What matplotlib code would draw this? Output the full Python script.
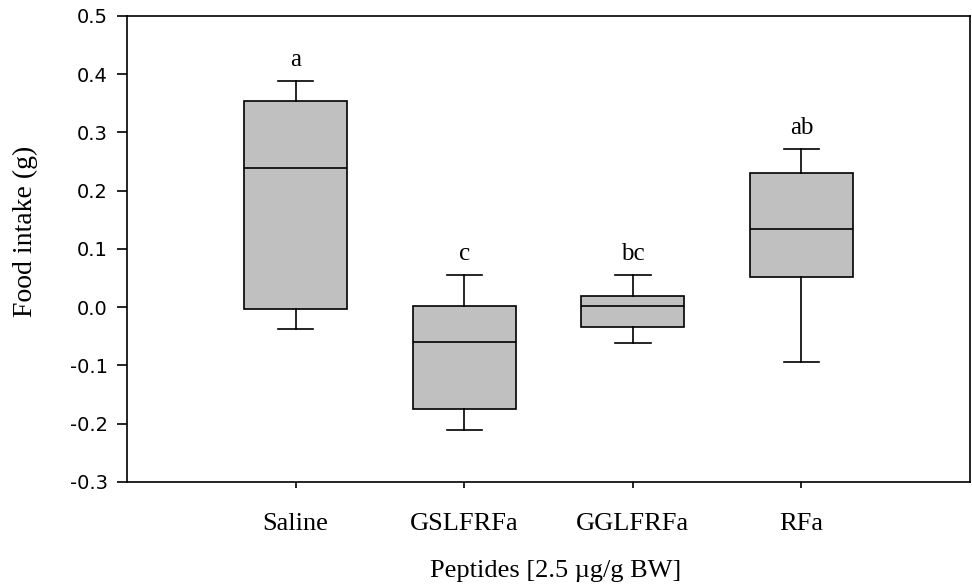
import matplotlib.pyplot as plt

# Box plot summary values
groups = ['Saline', 'GSLFRFa', 'GGLFRFa', 'RFa']
whisker_low = [-0.038, -0.210, -0.061, -0.094]
q1 = [-0.003, -0.175, -0.034, 0.052]
median = [0.239, -0.060, 0.002, 0.135]
q3 = [0.354, 0.002, 0.020, 0.230]
whisker_high = [0.388, 0.055, 0.055, 0.272]
letters = ['a', 'c', 'bc', 'ab']

serif = 'Liberation Serif'

fig = plt.figure(figsize=(9.72, 5.86), dpi=100)
ax = fig.add_axes([0.1307, 0.1775, 0.8673, 0.7952])

stats = []
for i, g in enumerate(groups):
    stats.append({'label': g, 'whislo': whisker_low[i], 'q1': q1[i], 'med': median[i],
                  'q3': q3[i], 'whishi': whisker_high[i], 'fliers': []})

positions = list(range(1, len(groups) + 1))
ax.bxp(stats, positions=positions, widths=0.61, patch_artist=True, showfliers=False,
       boxprops=dict(facecolor='#c0c0c0', edgecolor='black', linewidth=1.2),
       medianprops=dict(color='black', linewidth=1.2),
       whiskerprops=dict(color='black', linewidth=1.2),
       capprops=dict(color='black', linewidth=1.2),
       capwidths=0.21)

# significance letters above the upper whiskers
for x, top, lab in zip(positions, whisker_high, letters):
    ax.text(x, top + 0.026, lab, ha='center', va='baseline', fontsize=18, family=serif)

ax.set_xlim(0, 5)
ax.set_ylim(-0.3, 0.5)
ax.set_yticks([-0.3, -0.2, -0.1, 0.0, 0.1, 0.2, 0.3, 0.4, 0.5])
ax.set_yticklabels(['-0.3', '-0.2', '-0.1', '0.0', '0.1', '0.2', '0.3', '0.4', '0.5'],
                   fontsize=14, family='DejaVu Sans')
ax.set_xticks(positions)
ax.set_xticklabels(groups, fontsize=19, family=serif)

ax.tick_params(axis='y', direction='out', length=7, width=1.2, pad=7)
ax.tick_params(axis='x', direction='out', length=4.5, width=1.2, pad=18)
for s in ax.spines.values():
    s.set_linewidth(1.2)

fig.text(0.026, 0.605, 'Food intake (g)', rotation=90, ha='center', va='center',
         fontsize=20, family=serif)
fig.text(0.572, 0.026, 'Peptides [2.5 \u00b5g/g BW]', ha='center', va='center',
         fontsize=19, family=serif)

fig.savefig('out.png', dpi=100)
